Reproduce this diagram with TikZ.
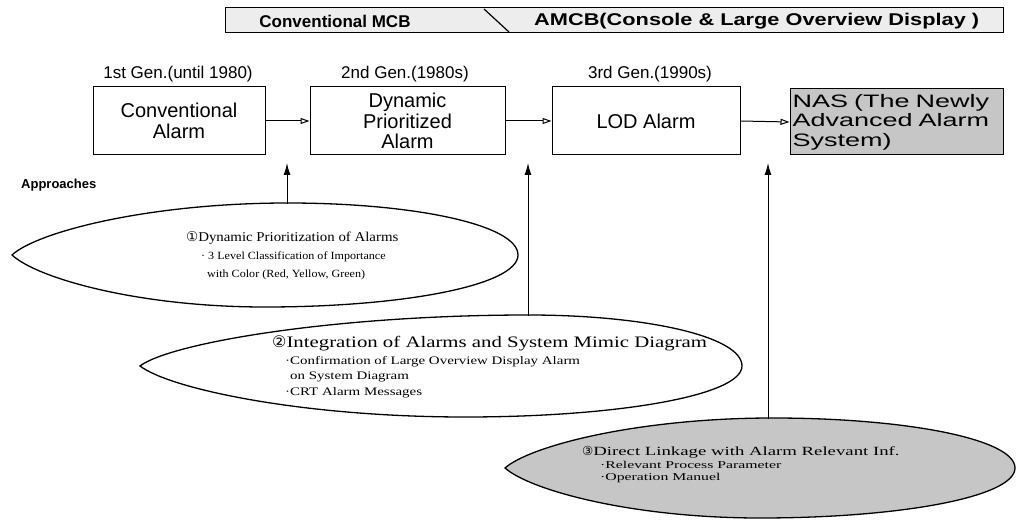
\documentclass[tikz,border=0pt]{standalone}
\usepackage{fontspec}
\setmainfont{Liberation Serif}
\setsansfont{Liberation Sans}
\newfontfamily\circfont{DejaVu Sans}
\newfontfamily\serifA[FakeStretch=1.1]{Liberation Serif}
\newfontfamily\serifB[FakeStretch=1.3]{Liberation Serif}
\newfontfamily\serifC[FakeStretch=1.5]{Liberation Serif}
\newfontfamily\sanswide[FakeStretch=1.28]{Liberation Sans}
\newfontfamily\sansnas[FakeStretch=1.5]{Liberation Sans}
\usetikzlibrary{arrows.meta}

% egg-like outline, pointed on the left
% #1 options, #2 cx, #3 cy, #4 half width, #5 half height,
% #6 offset of the top point, #7 offset of the bottom point (fractions of #4)
\newcommand\eggoutline[7]{%
  \path[#1] (#2-#4,#3)
    .. controls (#2-0.9*#4,#3-0.45*#5) and (#2+#6*#4-0.5*#4-0.5*#6*#4,#3-#5) .. (#2+#6*#4,#3-#5)
    .. controls (#2+#6*#4+0.55*#4-0.55*#6*#4,#3-#5) and (#2+#4,#3-0.58*#5) .. (#2+#4,#3)
    .. controls (#2+#4,#3+0.58*#5) and (#2+#7*#4+0.55*#4-0.55*#7*#4,#3+#5) .. (#2+#7*#4,#3+#5)
    .. controls (#2+#7*#4-0.5*#4-0.5*#7*#4,#3+#5) and (#2-0.9*#4,#3+0.45*#5) .. cycle;}

\begin{document}
\begin{tikzpicture}[x=1pt,y=-1pt,
  bartext/.style={font=\sffamily\bfseries\fontsize{17}{19}\selectfont, inner sep=0pt},
  genlabel/.style={font=\sffamily\fontsize{17}{19}\selectfont, anchor=base, inner sep=0pt},
  stage/.style={draw, line width=1pt, minimum height=68pt, align=center,
    font=\sffamily\fontsize{20}{20.5}\selectfont, inner sep=0pt},
  flow/.style={line width=1pt, -{Triangle[open,length=9pt,width=6pt]}},
  lift/.style={line width=1pt, -{Latex[length=12pt,width=7pt]}},
  eggline/.style={draw, line width=1.3pt},
  ttl/.style={anchor=base west, inner sep=0pt},
]
\useasboundingbox (0,0) rectangle (1018,524);

% era bar
\draw[line width=1pt, fill=gray!14] (225,8) rectangle (1003,33);
\coordinate (slashtop) at (484,9);
\coordinate (slashbot) at (509,32);
\draw[line width=1.2pt] (slashtop) -- (slashbot);
\node[bartext] (mcb) at (335,21) {Conventional MCB};
\node[bartext, anchor=west, font=\sanswide\bfseries\fontsize{17}{19}\selectfont] (amcb) at (534,21)
  {AMCB(Console \& Large Overview Display )};

% generations
\node[genlabel] (g1) at (178,79) {1st Gen.(until 1980)};
\node[genlabel] (g2) at (405,79) {2nd Gen.(1980s)};
\node[genlabel] (g3) at (650,79) {3rd Gen.(1990s)};

\node[stage, minimum width=172pt] (b1) at (179,121) {Conventional\\Alarm};
\node[stage, minimum width=195pt] (b2) at (407.5,121) {Dynamic\\Prioritized\\Alarm};
\node[stage, minimum width=188pt] (b3) at (646,121) {LOD Alarm};
\node[stage, minimum width=213pt, minimum height=66pt, fill=gray!45, align=left,
      text width=208pt, font=\sansnas\fontsize{18}{19.5}\selectfont] (b4) at (896.5,122)
      {NAS (The Newly\\Advanced Alarm\\System)};

\draw[flow] (b1.east) -- (b2.west);
\draw[flow] (b2.east) -- (b3.west);
\draw[flow] (b3.east) -- (b4.west);

\node[font=\sffamily\bfseries\fontsize{13}{15}\selectfont, anchor=base west, inner sep=0pt]
  (appr) at (21,189) {Approaches};

% approach 1
\eggoutline{eggline}{265}{255}{253}{52}{0.09}{0}
\node[ttl, font=\serifA\fontsize{13.5}{16}\selectfont] (a1) at (186,241)
  {{\circfont ①}Dynamic Prioritization of Alarms};
\node[ttl, font=\serifA\fontsize{11}{13}\selectfont] (a1x) at (201,259) {· 3 Level Classification of Importance};
\node[ttl, font=\serifA\fontsize{11}{13}\selectfont] (a1y) at (207,277) {with Color (Red, Yellow, Green)};

% approach 2
\eggoutline{eggline}{441}{366}{301}{51}{0.29}{0.08}
\node[ttl, font=\serifB\fontsize{16}{18}\selectfont] (a2) at (272,347)
  {{\circfont ②}Integration of Alarms and System Mimic Diagram};
\node[ttl, font=\serifB\fontsize{11.5}{14}\selectfont] (a2x) at (285,364) {·Confirmation of Large Overview Display Alarm};
\node[ttl, font=\serifB\fontsize{11.5}{14}\selectfont] (a2y) at (290,379) {on System Diagram};
\node[ttl, font=\serifB\fontsize{11.5}{14}\selectfont] (a2z) at (285,395) {·CRT Alarm Messages};

% approach 3
\eggoutline{eggline, fill=gray!45}{760}{468}{255}{50}{0.05}{0}
\node[ttl, font=\serifC\fontsize{12.5}{15}\selectfont] (a3) at (582,455)
  {{\circfont ③}Direct Linkage with Alarm Relevant Inf.};
\node[ttl, font=\serifC\fontsize{10.5}{12}\selectfont] (a3x) at (600,468) {·Relevant Process Parameter};
\node[ttl, font=\serifC\fontsize{10.5}{12}\selectfont] (a3y) at (600,480) {·Operation Manuel};

% links from approaches up to the stage gaps
\coordinate (s1) at (287,204);
\coordinate (t1) at (287,163);
\coordinate (s2) at (528,316);
\coordinate (t2) at (528,163);
\coordinate (s3) at (768,419);
\coordinate (t3) at (768,163);
\draw[lift] (s1) -- (t1);
\draw[lift] (s2) -- (t2);
\draw[lift] (s3) -- (t3);
\end{tikzpicture}
\end{document}
